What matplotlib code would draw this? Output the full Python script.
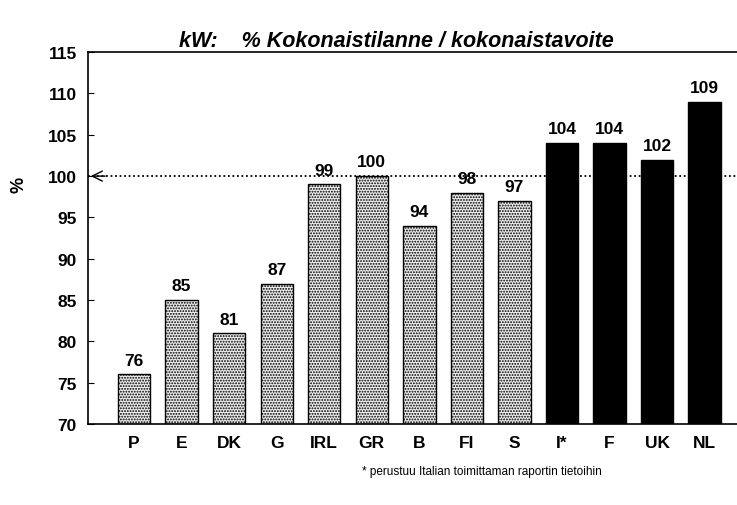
import matplotlib
matplotlib.use("Agg")
import matplotlib.pyplot as plt

categories = ["P", "E", "DK", "G", "IRL", "GR", "B", "FI", "S", "I*", "F", "UK", "NL"]
values = [76, 85, 81, 87, 99, 100, 94, 98, 97, 104, 104, 102, 109]
dark = [False]*9 + [True]*4
yticks = [70, 75, 80, 85, 90, 95, 100, 105, 110, 115]

plt.rcParams['font.family'] = ['Liberation Sans', 'DejaVu Sans']
plt.rcParams['hatch.color'] = '#666666'
plt.rcParams['hatch.linewidth'] = 0.9

fig = plt.figure(figsize=(7.37, 5.06), dpi=100)
ax = fig.add_axes([0.1194, 0.160, 0.885, 0.735])

x = list(range(len(categories)))
for xi, v, d in zip(x, values, dark):
    if d:
        ax.bar(xi, v - 70, bottom=70, width=0.68, color='black', edgecolor='black', linewidth=1)
    else:
        ax.bar(xi, v - 70, bottom=70, width=0.68, facecolor='#ebebeb', edgecolor='black',
               linewidth=1, hatch='......')
    ax.text(xi, v + 0.8, str(v), ha='center', va='bottom', fontsize=12.5, fontweight='bold')

ax.axhline(100, color='black', linestyle=(0, (1, 1.5)), linewidth=1.3, zorder=0.5)
ax.annotate('', xy=(-0.97, 100), xytext=(-0.55, 100),
            arrowprops=dict(arrowstyle='->', color='black', lw=1, mutation_scale=18))

ax.set_xlim(-0.97, 12.75)
ax.set_ylim(70, 115)
ax.set_yticks(yticks)
ax.set_yticklabels([str(t) for t in yticks], fontsize=12.5, fontweight='bold')
ax.set_xticks(x)
ax.set_xticklabels(categories, fontsize=12.5, fontweight='bold')
ax.tick_params(axis='x', length=0, pad=8)
ax.tick_params(axis='y', direction='in', length=4, pad=8)
ax.spines['right'].set_visible(False)
for s in ax.spines.values():
    s.set_linewidth(1.2)

fig.text(0.026, 0.635, '%', rotation=90, ha='center', va='center', fontsize=13, fontweight='bold')
fig.text(0.538, 0.918, 'kW:    % Kokonaistilanne / kokonaistavoite', ha='center', va='center',
         fontsize=15.5, fontweight='bold', style='italic')
fig.text(0.654, 0.067, '* perustuu Italian toimittaman raportin tietoihin', ha='center', va='center',
         fontsize=8.5)

fig.savefig('out.png', dpi=100)
